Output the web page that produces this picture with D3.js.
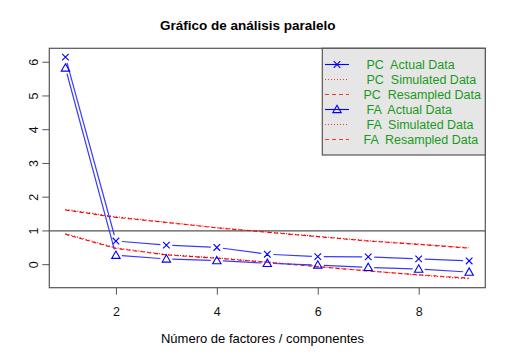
<!DOCTYPE html>
<html><head><meta charset="utf-8">
<script src="https://cdn.jsdelivr.net/npm/d3@7"></script>
<style>body{margin:0;background:#fff}svg{display:block;font-family:"Liberation Sans",Arial,sans-serif}text{white-space:pre}</style>
</head><body><svg id="c" width="516" height="357"></svg>
<script>
const factors = [1,2,3,4,5,6,7,8,9];
const pcActual = [6.15, 0.70, 0.58, 0.51, 0.31, 0.24, 0.23, 0.17, 0.11];
const faActual = [5.83, 0.28, 0.17, 0.12, 0.04, -0.01, -0.08, -0.13, -0.22];
const pcSimulated = [1.64, 1.42, 1.26, 1.10, 0.97, 0.84, 0.71, 0.61, 0.50];
const pcResampled = [1.62, 1.40, 1.25, 1.09, 0.96, 0.83, 0.70, 0.60, 0.49];
const faSimulated = [0.92, 0.50, 0.30, 0.20, 0.08, -0.05, -0.18, -0.31, -0.42];
const faResampled = [0.90, 0.48, 0.29, 0.19, 0.07, -0.06, -0.19, -0.30, -0.40];
const xTicks = [2,4,6,8];
const yTicks = [0,1,2,3,4,5,6];
const legendLabels = ["PC  Actual Data","PC  Simulated Data","PC  Resampled Data","FA  Actual Data","FA  Simulated Data","FA  Resampled Data"];
const title = "Gráfico de análisis paralelo";
const xLabel = "Número de factores / componentes";

const svg = d3.select("#c");
const L=49.3,R=485.3,T=48.3,B=287.7;
const pad=(a,b)=>{const r=b-a;return [a-0.04*r,b+0.04*r];};
const allY=[].concat(pcActual,faActual,pcSimulated,pcResampled,faSimulated,faResampled);
const x=d3.scaleLinear().domain(pad(d3.min(factors),d3.max(factors))).range([L,R]);
const y=d3.scaleLinear().domain(pad(d3.min(allY),d3.max(allY))).range([B,T]);
const axisCol="#555";

// axes
const xa=svg.append("g").attr("transform",`translate(0,${B})`).call(d3.axisBottom(x).tickValues(xTicks).tickSize(7).tickPadding(12).tickFormat(d3.format("d")));
const ya=svg.append("g").attr("transform",`translate(${L},0)`).call(d3.axisLeft(y).tickValues(yTicks).tickSize(7).tickFormat(d3.format("d")));
[xa,ya].forEach(g=>{g.select(".domain").remove();g.selectAll("line").attr("stroke",axisCol);g.selectAll("text").attr("font-size",12.5).attr("fill","#111").attr("font-family","Liberation Sans, Arial");});
ya.selectAll("text").attr("text-anchor","middle").attr("x",0).attr("dy",0).attr("transform",d=>`translate(-15,${y(d)}) rotate(-90)`).attr("y",4);
ya.selectAll(".tick").attr("transform","translate(0,0)");
ya.selectAll(".tick line").attr("y1",d=>y(d)).attr("y2",d=>y(d));

svg.append("rect").attr("x",L).attr("y",T).attr("width",R-L).attr("height",B-T).attr("fill","none").attr("stroke",axisCol).attr("stroke-width",1.2);

// h line at 1
svg.append("line").attr("x1",L).attr("x2",R).attr("y1",y(1)).attr("y2",y(1)).attr("stroke","#555").attr("stroke-width",1.3);

const plotG=svg.append("g");
function simpleLine(vals,dash){
  plotG.append("path").datum(vals).attr("fill","none").attr("stroke","red").attr("stroke-width",1.1)
    .attr("stroke-dasharray",dash)
    .attr("d",d3.line().x((d,i)=>x(factors[i])).y(d=>y(d)));
}
simpleLine(pcSimulated,"1,2");
simpleLine(pcResampled,"4,3");
simpleLine(faSimulated,"1,2");
simpleLine(faResampled,"4,3");

function bLine(vals,marker){
  const gap=6;
  for(let i=0;i<vals.length-1;i++){
    const x1=x(factors[i]),y1=y(vals[i]),x2=x(factors[i+1]),y2=y(vals[i+1]);
    const dx=x2-x1,dy=y2-y1,len=Math.hypot(dx,dy);
    if(len<2*gap) continue;
    const ux=dx/len,uy=dy/len;
    plotG.append("line").attr("x1",x1+ux*gap).attr("y1",y1+uy*gap).attr("x2",x2-ux*gap).attr("y2",y2-uy*gap)
      .attr("stroke","#3a3aff").attr("stroke-width",1.2);
  }
  vals.forEach((v,i)=>drawMarker(plotG,marker,x(factors[i]),y(v)));
}
function drawMarker(g,m,cx,cy){
  if(m==="x"){
    const s=3.3;
    g.append("path").attr("d",`M${cx-s},${cy-s}L${cx+s},${cy+s}M${cx-s},${cy+s}L${cx+s},${cy-s}`).attr("stroke","blue").attr("stroke-width",1.1).attr("fill","none");
  } else {
    const s=4.2;
    g.append("path").attr("d",`M${cx},${cy-s}L${cx+s},${cy+s*0.75}L${cx-s},${cy+s*0.75}Z`).attr("stroke","blue").attr("stroke-width",1.1).attr("fill","none");
  }
}
bLine(pcActual,"x");
bLine(faActual,"t");

// legend
const lg=svg.append("g");
lg.append("rect").attr("x",322.3).attr("y",T).attr("width",R-322.3).attr("height",155-T).attr("fill","#e6e6e6").attr("stroke","#555").attr("stroke-width",1.2);
const styles=[{m:"x"},{dash:"1,2"},{dash:"4,3"},{m:"t"},{dash:"1,2"},{dash:"4,3"}];
legendLabels.forEach((lab,i)=>{
  const yy=64.5+i*15;
  const st=styles[i];
  if(st.m){
    lg.append("line").attr("x1",325).attr("x2",349).attr("y1",yy).attr("y2",yy).attr("stroke","blue").attr("stroke-width",1.1);
    drawMarker(lg,st.m,337,yy);
  } else {
    lg.append("line").attr("x1",325).attr("x2",349).attr("y1",yy).attr("y2",yy).attr("stroke","#ff3030").attr("stroke-width",1).attr("stroke-dasharray",st.dash);
  }
  lg.append("text").attr("x",lab.includes("Resampled")?363.5:366.5).attr("y",yy+4.5).attr("font-size",12.5).attr("fill","#1a9a1a").text(lab);
});

svg.append("text").attr("x",247.7).attr("y",29.5).attr("text-anchor","middle").attr("font-size",13.5).attr("font-weight","bold").attr("fill","#000").text(title);
svg.append("text").attr("x",262.5).attr("y",343).attr("text-anchor","middle").attr("font-size",13).attr("fill","#000").text(xLabel);
</script></body></html>
